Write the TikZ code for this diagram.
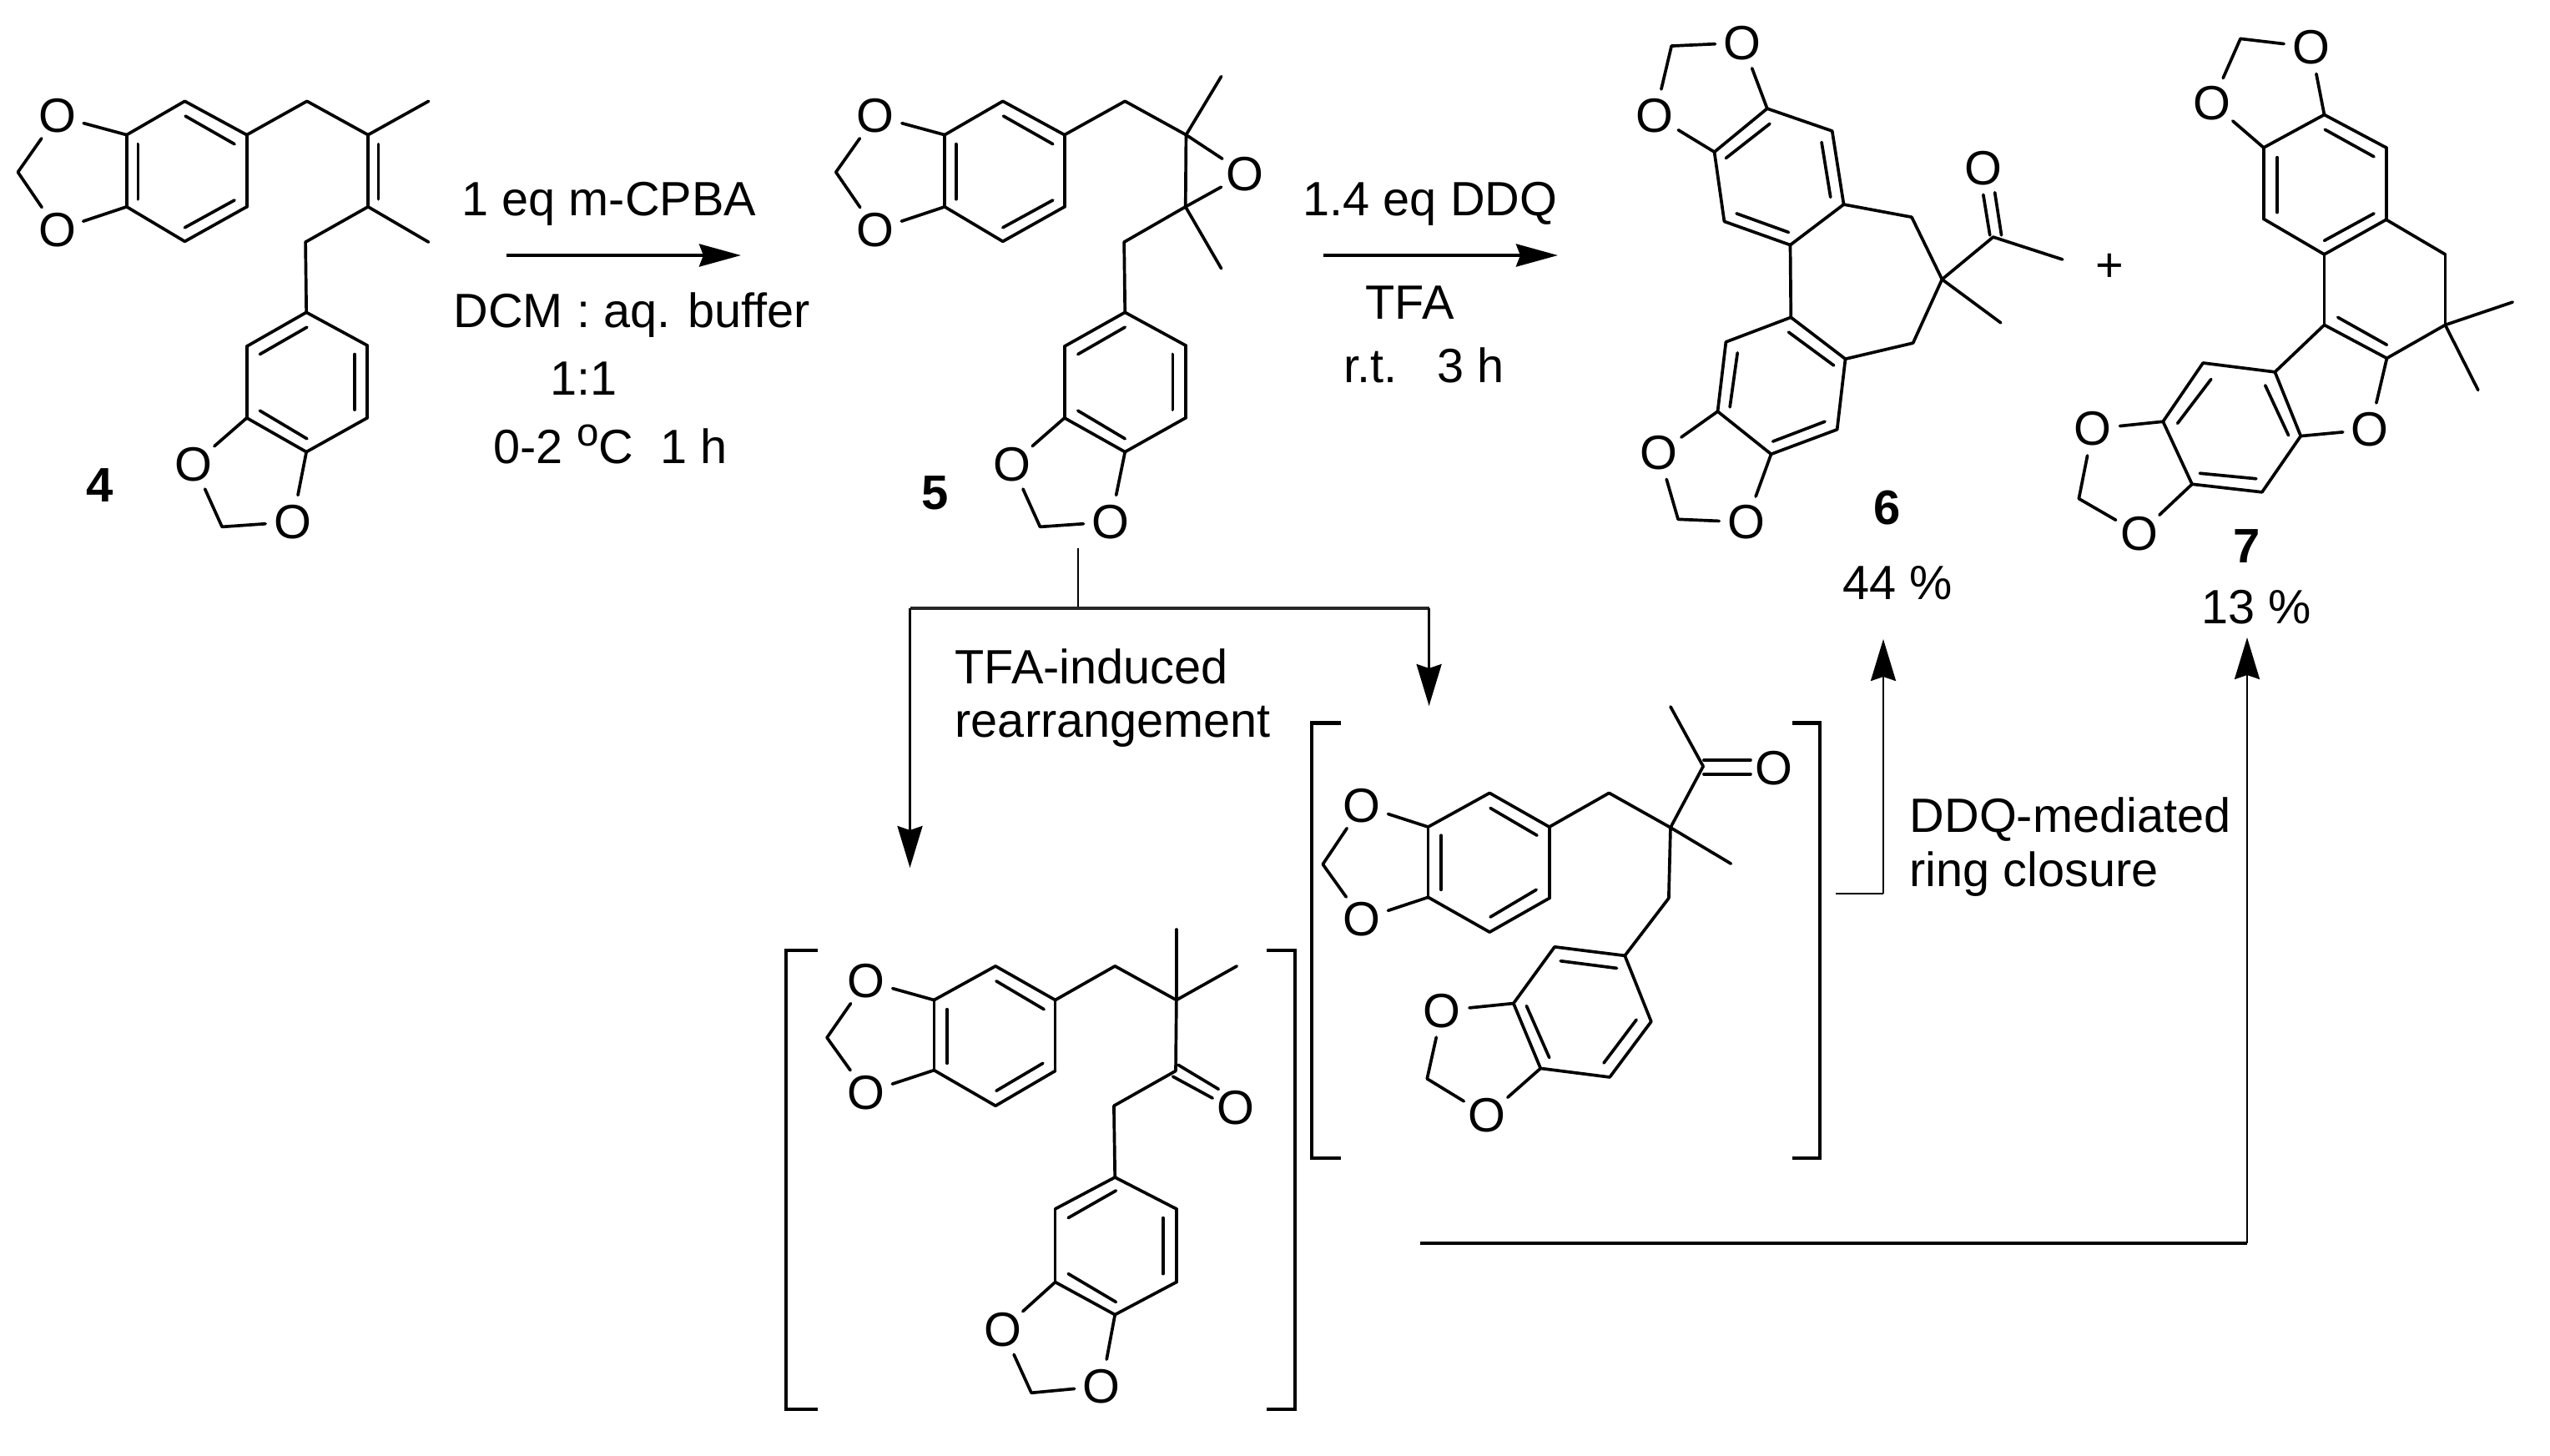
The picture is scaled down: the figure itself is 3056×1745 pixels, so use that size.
\documentclass[tikz,border=0pt]{standalone}
\usepackage{fontspec}
\setmainfont{Liberation Sans}
\usetikzlibrary{arrows.meta}
\newcommand{\mAtoms}[1]{\foreach \nn/\xx/\yy in {#1}{\coordinate (\nn) at (\xx,\yy);}}
\newcommand{\mOxy}[1]{\foreach \nn/\xx/\yy in {#1}{\node[oxy] (\nn) at (\xx,\yy) {O};}}
\newcommand{\mBonds}[1]{\foreach \ba/\bb in {#1}{\draw[bond] (\ba) -- (\bb);}}
\newcommand{\mInner}[1]{\foreach \pa/\pb/\pc/\pd in {#1}{\draw[bond] (\pa,\pb) -- (\pc,\pd);}}
\tikzset{
  chemfont/.style={font=\fontsize{16.4}{19}\selectfont},
  bond/.style={line width=1.05pt,line cap=round,line join=round,black},
  oxy/.style={circle,inner sep=0pt,minimum size=0.64cm,chemfont},
  lbl/.style={inner sep=0pt,anchor=base west,chemfont},
  cmpd/.style={inner sep=0pt,anchor=base,font=\fontsize{16.5}{19}\selectfont\bfseries},
  brk/.style={line width=1.15pt,miter limit=10,black},
  rxn/.style={line width=1.15pt,-{Stealth[length=0.5cm,width=0.27cm,inset=0.05cm]},black},
  thinrxn/.style={line width=0.75pt,-{Stealth[length=0.5cm,width=0.3cm,inset=0.05cm]},black},
  thinline/.style={line width=0.75pt,black},
  midline/.style={line width=1pt,black!85},
  heavyline/.style={line width=1.3pt,black}
}
\begin{document}
\begin{tikzpicture}[x=0.01cm,y=-0.01cm]
\fill[white] (0,0) rectangle (3056,1745);
\useasboundingbox (0,0) rectangle (3056,1745);

% ---------- compound 4
\begin{scope}[name prefix=m4-,shift={(0,60)},xscale=0.35714,yscale=0.39541]
\mAtoms{a/425/257,b/620/155,c/828/257,d/828/475,e/620/580,f/425/475,ch/60/370,p/1030/155,g/1235/257,me/1438/155,h/1235/475,mf/1438/582,i/1025/582,j/1028/795,k/828/898,l/828/1115,m/1028/1218,n/1232/1115,o/1232/895,cj/745/1445}
\mOxy{Oa/192/200,Ob/192/545,Oc/650/1255,Od/982/1430}
\mBonds{a/b,b/c,c/d,d/e,e/f,f/a,a/Oa,f/Ob,Oa/ch,ch/Ob,c/p,p/g,g/me,g/h,h/mf,h/i,i/j,j/k,k/l,l/m,m/n,n/o,o/j,l/Oc,m/Od,Oc/cj,cj/Od}
\mInner{622/200/787/285,620/538/787/455,463/285/463/452,1270/285/1270/452,872/922/1030/840,872/1093/1030/1178,1190/922/1190/1090}
\end{scope}
\node[cmpd] (n4) at (120,601) {4};

% ---------- compound 5
\begin{scope}[name prefix=m5-,shift={(1000,60)},xscale=0.35714,yscale=0.39541]
\mAtoms{a/370/257,b/565/155,c/772/257,d/772/475,e/565/580,f/370/475,ch/5/370,p/975/155,g/1180/257,me/1298/80,h/1178/475,mf/1298/662,i/972/582,j/975/795,k/772/898,l/772/1115,m/975/1218,n/1178/1115,o/1178/895,cj/690/1445}
\mOxy{Oa/138/200,Ob/138/545,Oe/1378/375,Oc/595/1255,Od/927/1430}
\mBonds{a/b,b/c,c/d,d/e,e/f,f/a,a/Oa,f/Ob,Oa/ch,ch/Ob,c/p,p/g,g/me,g/h,h/mf,g/Oe,h/Oe,h/i,i/j,j/k,k/l,l/m,m/n,n/o,o/j,l/Oc,m/Od,Oc/cj,cj/Od}
\mInner{567/200/733/285,565/538/733/455,408/285/408/452,817/922/975/840,817/1093/975/1178,1135/922/1135/1090}
\end{scope}
\node[cmpd] (n5) at (1121,610) {5};

% ---------- compound 6
\begin{scope}[name prefix=m6-,shift={(1930,0)},xscale=0.39541,yscale=0.43367]
\mAtoms{a/475/300,b/672/362,c/707/565,d/545/677,e/345/612,f/315/420,ch/185/127,r/913/600,p/1005/772,s/917/948,g/712/992,h/547/877,i/687/1187,j/487/1255,k/325/1137,l/350/945,cj/205/1435,q/1160/655,me/1370/717,mf/1183/892}
\mOxy{Oa/400/118,Ob/135/320,Oc/147/1252,Od/412/1443,Oe/1130/465}
\mBonds{a/b,b/c,c/d,d/e,e/f,f/a,a/Oa,f/Ob,Oa/ch,ch/Ob,c/r,r/p,p/s,s/g,d/h,h/g,g/i,i/j,j/k,k/l,l/h,k/Oc,j/Od,Oc/cj,cj/Od,p/q,q/me,p/mf}
\mInner{483/342/350/437,640/393/667/545,540/642/382/590,540/918/677/1010,650/1165/492/1220,362/1125/385/975,1150/650/1130/538,1185/650/1165/532}
\end{scope}
\node[cmpd] (n6) at (2262,628) {6};
\node[lbl] (y6) at (2208,718) {44 \%};
\node[inner sep=0pt,anchor=base,chemfont] (plus) at (2528,337) {+};

% ---------- compound 7
\begin{scope}[name prefix=m7-,shift={(2450,0)},xscale=0.38648,yscale=0.43367]
\mAtoms{a/868/317,b/1060/408,c/1060/607,d/868/703,e/680/605,f/680/408,ch/608/107,r/868/898,p/1243/703,s/1243/898,me/1452/835,mf/1345/1078,t/1062/990,u/715/1028,v/795/1205,w/675/1360,x/458/1338,y/368/1165,z/492/1003,cj/107/1378}
\mOxy{Oa/827/130,Ob/520/285,Oe/1010/1187,Oc/150/1185,Od/295/1475}
\mBonds{a/b,b/c,c/d,d/e,e/f,f/a,a/Oa,f/Ob,Oa/ch,ch/Ob,d/r,c/p,p/s,s/me,s/mf,s/t,r/t,r/u,t/Oe,v/Oe,u/v,v/w,w/x,x/y,y/z,z/u,y/Oc,x/Od,Oc/cj,cj/Od}
\mInner{870/358/1022/433,1022/590/868/665,722/435/722/587,910/877/1062/953,685/1065/757/1203,657/1323/482/1308,413/1170/517/1048}
\end{scope}
\node[cmpd] (n7) at (2693,674) {7};
\node[lbl] (y7) at (2638,747) {13 \%};

% ---------- bracketed intermediate (right)
\begin{scope}[name prefix=ma-,shift={(1560,830)},xscale=0.42092,yscale=0.37628]
\mAtoms{a/360/428,b/535/320,c/705/428,d/705/655,e/535/763,f/360/652,ch/60/547,p/875/320,g/1050/430,me/1222/545,q/1143/235,mf/1050/45,h/1045/655,i/920/838,j/720/810,k/603/990,l/680/1197,m/877/1225,n/995/1048,cj/357/1230,
 la/112/97,lb/28/97,lc/28/1482,ld/112/1482,ra/1398/97,rb/1475/97,rc/1475/1482,rd/1398/1482}
\mOxy{Oa/172/360,Ob/172/722,Oc/400/1013,Od/528/1347}
\node[oxy] (Oe) at (1345,240) {O};
\mBonds{a/b,b/c,c/d,d/e,e/f,f/a,a/Oa,f/Ob,Oa/ch,ch/Ob,c/p,p/g,g/me,g/q,q/mf,g/h,h/i,i/j,j/k,k/l,l/m,m/n,n/i,k/Oc,l/Od,Oc/cj,cj/Od}
\mInner{537/368/670/455,537/715/668/628,397/455/397/628,897/878/737/855,640/998/705/1163,860/1180/953/1042,1145/215/1278/215,1145/260/1278/260}
\draw[brk] (la) -- (lb) -- (lc) -- (ld);
\draw[brk] (ra) -- (rb) -- (rc) -- (rd);
\end{scope}

% ---------- bracketed intermediate (left)
\begin{scope}[name prefix=mb-,shift={(930,1120)},xscale=0.42092,yscale=0.39860]
\mAtoms{a/450/197,b/625/95,c/795/197,d/795/410,e/625/515,f/450/408,ch/145/310,p/965/95,g/1140/197,me/1312/95,mf/1140/-15,q/1138/410,i/962/515,j/965/730,k/795/825,l/795/1045,m/965/1143,n/1140/1045,o/1140/825,cj/727/1378,
 la/118/47,lb/28/47,lc/28/1428,ld/118/1428,ra/1398/47,rb/1478/47,rc/1478/1428,rd/1398/1428}
\mOxy{Oa/257/140,Ob/257/475,Oe/1310/520,Oc/645/1188,Od/927/1358}
\mBonds{a/b,b/c,c/d,d/e,e/f,f/a,a/Oa,f/Ob,Oa/ch,ch/Ob,c/p,p/g,g/me,g/mf,g/q,q/i,i/j,j/k,k/l,l/m,m/n,n/o,o/j,l/Oc,m/Od,Oc/cj,cj/Od}
\mInner{627/140/763/225,627/470/760/387,487/225/487/387,1145/392/1260/465,1130/427/1243/492,832/852/968/770,832/1020/968/1105,1102/852/1102/1020}
\draw[brk] (la) -- (lb) -- (lc) -- (ld);
\draw[brk] (ra) -- (rb) -- (rc) -- (rd);
\end{scope}

% ---------- reaction arrows and their texts
\coordinate (r1s) at (607,306);
\coordinate (r1e) at (888,306);
\draw[rxn] (r1s) -- (r1e);
\node[lbl] (t1a) at (553,258) {1 eq m-CPBA};
\node[lbl] (t1b) at (543,392) {DCM : aq. buffer};
\node[lbl] (t1c) at (659,473) {1:1};
\node[lbl] (t1d) at (591,555) {0-2 \raisebox{0.36em}{\fontsize{13.5}{13.5}\selectfont o}C\ \ 1 h};

\coordinate (r2s) at (1586,306);
\coordinate (r2e) at (1867,306);
\draw[rxn] (r2s) -- (r2e);
\node[lbl] (t2a) at (1561,258) {1.4 eq DDQ};
\node[lbl] (t2b) at (1636,382) {TFA};
\node[lbl] (t2c) at (1610,458) {r.t.\ \ \ 3 h};

% ---------- branched connector from 5
\coordinate (st) at (1292,657);
\coordinate (bj) at (1292,729);
\coordinate (bl) at (1090.5,729);
\coordinate (br) at (1712.6,729);
\coordinate (tl) at (1090.5,1040);
\coordinate (tr) at (1712.6,846);
\draw[thinline] (st) -- (bj);
\draw[midline] (bl) -- (br);
\draw[thinrxn] (bl) -- (tl);
\draw[thinrxn] (br) -- (tr);
\node[lbl] (t3a) at (1144,819) {TFA-induced};
\node[lbl] (t3b) at (1144,883) {rearrangement};

% ---------- DDQ connector to 6
\coordinate (d1) at (2200,1071);
\coordinate (d2) at (2257,1071);
\coordinate (d3) at (2257,766);
\draw[thinline] (d1) -- (d2);
\draw[thinrxn] (d2) -- (d3);
\node[lbl] (t4a) at (2288,997) {DDQ-mediated};
\node[lbl] (t4b) at (2288,1062) {ring closure};

% ---------- connector to 7
\coordinate (e1) at (1702,1490);
\coordinate (e2) at (2693,1490);
\coordinate (e3) at (2693,764);
\draw[heavyline] (e1) -- (e2);
\draw[thinrxn] (e2) -- (e3);
\end{tikzpicture}
\end{document}
